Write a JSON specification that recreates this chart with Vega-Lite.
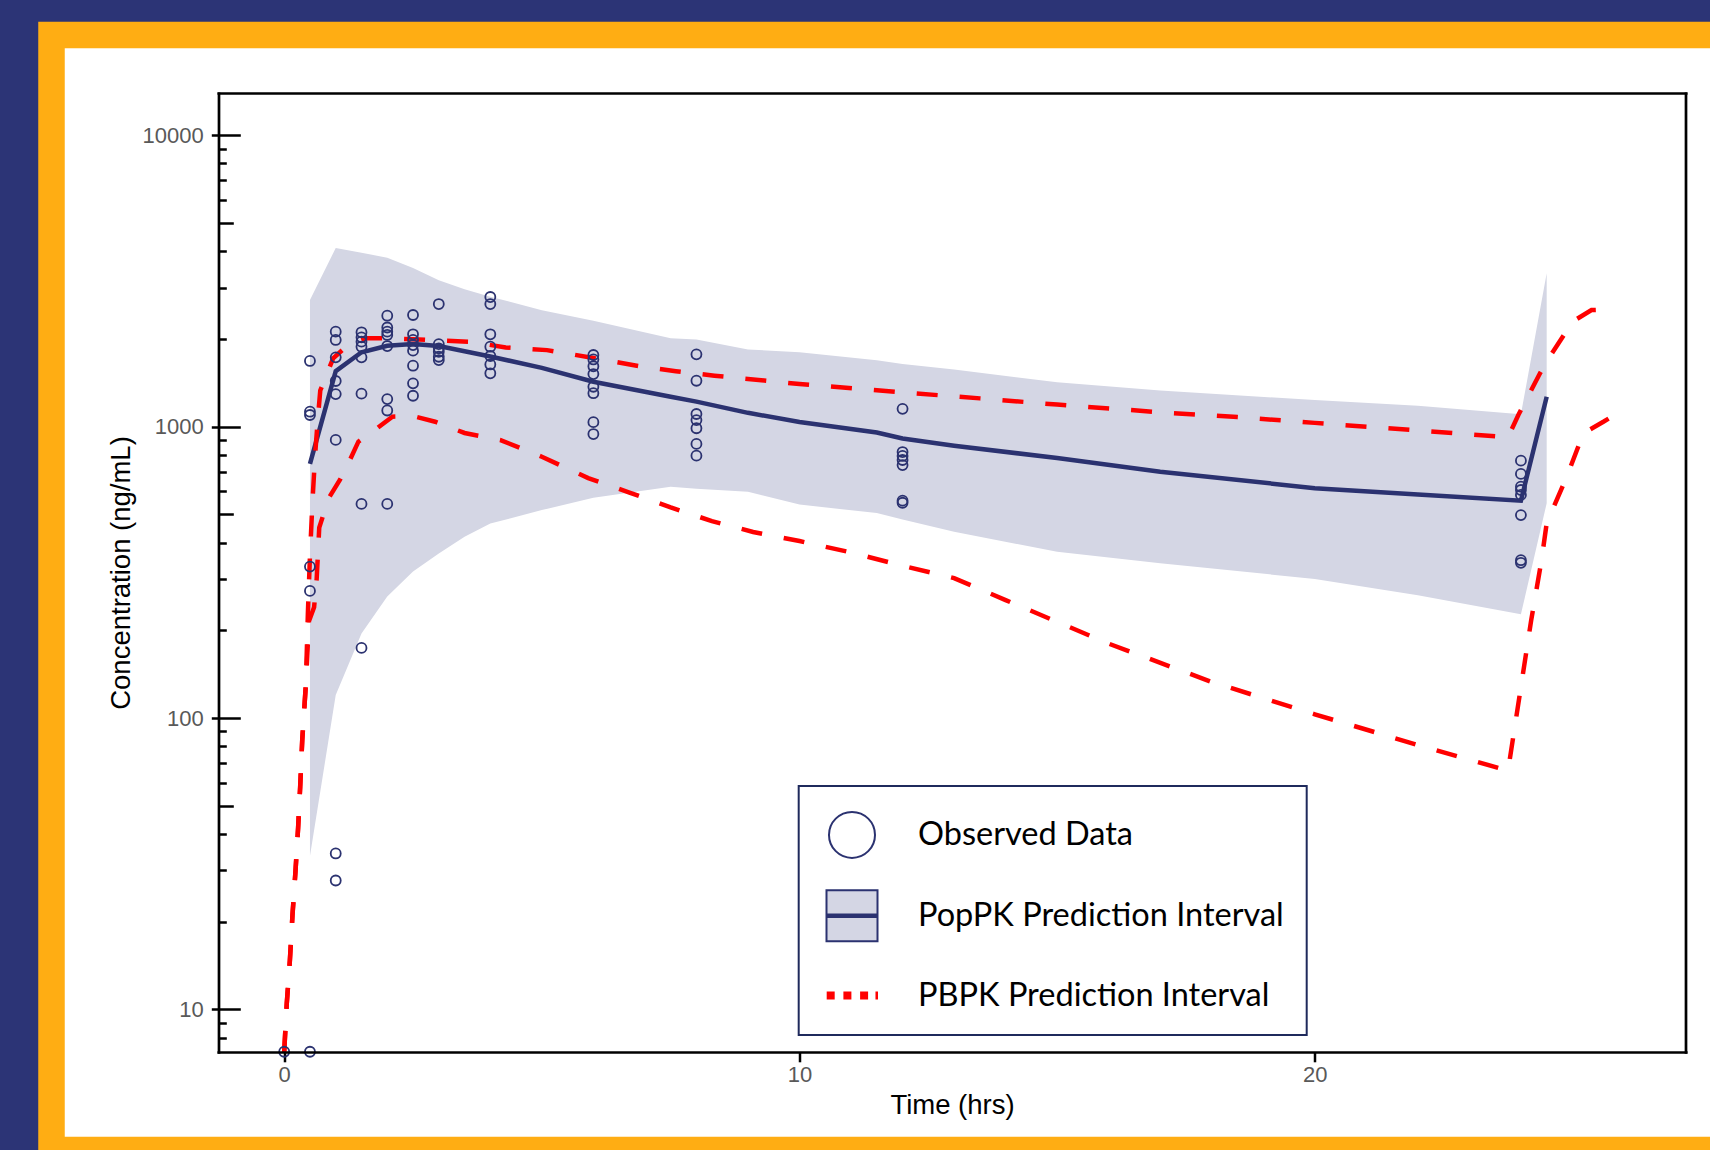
{
  "$schema": "https://vega.github.io/schema/vega-lite/v6.json",
  "width": 1658.5,
  "height": 1115,
  "autosize": {"type": "none"},
  "padding": {"left": 51.5, "top": 35, "right": 0, "bottom": 0},
  "background": "#2c3476",
  "config": {
    "view": {"fill": "white", "stroke": "#ffad13", "strokeWidth": 26.5, "strokeDash": [1658.5, 1115, 2773.5]},
    "legend": {"strokeWidth": 2}
  },
  "datasets": {
    "obs": [
      {"t": 0, "c": 7.16},
      {"t": 0.5, "c": 1680}, {"t": 0.5, "c": 1125}, {"t": 0.5, "c": 1096}, {"t": 0.5, "c": 331}, {"t": 0.5, "c": 273}, {"t": 0.5, "c": 7.16},
      {"t": 1, "c": 2117}, {"t": 1, "c": 1983}, {"t": 1, "c": 1729}, {"t": 1, "c": 1434}, {"t": 1, "c": 1293}, {"t": 1, "c": 900}, {"t": 1, "c": 34.3}, {"t": 1, "c": 27.7},
      {"t": 1.5, "c": 2107}, {"t": 1.5, "c": 2025}, {"t": 1.5, "c": 1956}, {"t": 1.5, "c": 1880}, {"t": 1.5, "c": 1729}, {"t": 1.5, "c": 1297}, {"t": 1.5, "c": 543}, {"t": 1.5, "c": 174},
      {"t": 2, "c": 2402}, {"t": 2, "c": 2188}, {"t": 2, "c": 2117}, {"t": 2, "c": 2063}, {"t": 2, "c": 1890}, {"t": 2, "c": 1243}, {"t": 2, "c": 1136}, {"t": 2, "c": 543},
      {"t": 2.5, "c": 2415}, {"t": 2.5, "c": 2074}, {"t": 2.5, "c": 1983}, {"t": 2.5, "c": 1905}, {"t": 2.5, "c": 1822}, {"t": 2.5, "c": 1618}, {"t": 2.5, "c": 1408}, {"t": 2.5, "c": 1276},
      {"t": 3, "c": 2634}, {"t": 3, "c": 1920}, {"t": 3, "c": 1856}, {"t": 3, "c": 1807}, {"t": 3, "c": 1737}, {"t": 3, "c": 1692},
      {"t": 4, "c": 2784}, {"t": 4, "c": 2634}, {"t": 4, "c": 2074}, {"t": 4, "c": 1880}, {"t": 4, "c": 1747}, {"t": 4, "c": 1634}, {"t": 4, "c": 1524},
      {"t": 6, "c": 1761}, {"t": 6, "c": 1700}, {"t": 6, "c": 1611}, {"t": 6, "c": 1515}, {"t": 6, "c": 1370}, {"t": 6, "c": 1302}, {"t": 6, "c": 1036}, {"t": 6, "c": 943},
      {"t": 8, "c": 1770}, {"t": 8, "c": 1437}, {"t": 8, "c": 1105}, {"t": 8, "c": 1053}, {"t": 8, "c": 987}, {"t": 8, "c": 872}, {"t": 8, "c": 795},
      {"t": 12, "c": 1151}, {"t": 12, "c": 818}, {"t": 12, "c": 793}, {"t": 12, "c": 768}, {"t": 12, "c": 738}, {"t": 12, "c": 557}, {"t": 12, "c": 548},
      {"t": 24, "c": 764}, {"t": 24, "c": 688}, {"t": 24, "c": 622}, {"t": 24, "c": 606}, {"t": 24, "c": 583}, {"t": 24, "c": 497}, {"t": 24, "c": 348}, {"t": 24, "c": 341}
    ],
    "band": [
      {"t": 0.5, "lo": 33.6, "hi": 2719, "med": 745},
      {"t": 1, "lo": 120, "hi": 4100, "med": 1550},
      {"t": 1.5, "lo": 195, "hi": 3950, "med": 1800},
      {"t": 2, "lo": 261, "hi": 3800, "med": 1895},
      {"t": 2.5, "lo": 318, "hi": 3500, "med": 1920},
      {"t": 3, "lo": 367, "hi": 3180, "med": 1890},
      {"t": 3.5, "lo": 419, "hi": 2960, "med": 1815},
      {"t": 4, "lo": 465, "hi": 2790, "med": 1740},
      {"t": 5, "lo": 517, "hi": 2510, "med": 1590},
      {"t": 6, "lo": 570, "hi": 2310, "med": 1426},
      {"t": 7.5, "lo": 622, "hi": 2010, "med": 1266},
      {"t": 8, "lo": 612, "hi": 1990, "med": 1218},
      {"t": 9, "lo": 598, "hi": 1840, "med": 1115},
      {"t": 10, "lo": 540, "hi": 1800, "med": 1037},
      {"t": 11.5, "lo": 505, "hi": 1690, "med": 955},
      {"t": 12, "lo": 480, "hi": 1640, "med": 910},
      {"t": 13, "lo": 436, "hi": 1570, "med": 860},
      {"t": 15, "lo": 372, "hi": 1420, "med": 780},
      {"t": 17, "lo": 340, "hi": 1330, "med": 700},
      {"t": 20, "lo": 300, "hi": 1234, "med": 615},
      {"t": 22, "lo": 264, "hi": 1180, "med": 585},
      {"t": 24, "lo": 227, "hi": 1102, "med": 557},
      {"t": 24.5, "lo": 546, "hi": 3357, "med": 1266}
    ],
    "pbpk": [
      {"b": "upper", "t": 0, "v": 7.16}, {"b": "upper", "t": 0.05, "v": 10.5}, {"b": "upper", "t": 0.11, "v": 14.7}, {"b": "upper", "t": 0.16, "v": 21}, {"b": "upper", "t": 0.22, "v": 30}, {"b": "upper", "t": 0.27, "v": 42}, {"b": "upper", "t": 0.31, "v": 58}, {"b": "upper", "t": 0.35, "v": 84}, {"b": "upper", "t": 0.42, "v": 130}, {"b": "upper", "t": 0.46, "v": 230}, {"b": "upper", "t": 0.5, "v": 360}, {"b": "upper", "t": 0.55, "v": 560}, {"b": "upper", "t": 0.6, "v": 800}, {"b": "upper", "t": 0.65, "v": 1050}, {"b": "upper", "t": 0.7, "v": 1330}, {"b": "upper", "t": 0.95, "v": 1715}, {"b": "upper", "t": 1.2, "v": 1880}, {"b": "upper", "t": 1.6, "v": 2009}, {"b": "upper", "t": 2, "v": 2009}, {"b": "upper", "t": 2.5, "v": 1995}, {"b": "upper", "t": 3, "v": 1975}, {"b": "upper", "t": 3.6, "v": 1955}, {"b": "upper", "t": 4.3, "v": 1870}, {"b": "upper", "t": 5.1, "v": 1830}, {"b": "upper", "t": 6, "v": 1720}, {"b": "upper", "t": 7, "v": 1600}, {"b": "upper", "t": 7.6, "v": 1550}, {"b": "upper", "t": 8.35, "v": 1495}, {"b": "upper", "t": 10, "v": 1400}, {"b": "upper", "t": 12, "v": 1310}, {"b": "upper", "t": 13.5, "v": 1250}, {"b": "upper", "t": 15, "v": 1190}, {"b": "upper", "t": 17, "v": 1120}, {"b": "upper", "t": 18.5, "v": 1078}, {"b": "upper", "t": 20, "v": 1030}, {"b": "upper", "t": 22, "v": 970}, {"b": "upper", "t": 23.75, "v": 920}, {"b": "upper", "t": 23.95, "v": 1096}, {"b": "upper", "t": 24.37, "v": 1524}, {"b": "upper", "t": 24.56, "v": 1737}, {"b": "upper", "t": 25, "v": 2291}, {"b": "upper", "t": 25.37, "v": 2512}, {"b": "upper", "t": 25.77, "v": 2526},
      {"b": "lower", "t": 0, "v": 7.16}, {"b": "lower", "t": 0.05, "v": 10.5}, {"b": "lower", "t": 0.11, "v": 14.7}, {"b": "lower", "t": 0.16, "v": 21}, {"b": "lower", "t": 0.22, "v": 30}, {"b": "lower", "t": 0.27, "v": 42}, {"b": "lower", "t": 0.31, "v": 58}, {"b": "lower", "t": 0.35, "v": 84}, {"b": "lower", "t": 0.42, "v": 130}, {"b": "lower", "t": 0.48, "v": 215}, {"b": "lower", "t": 0.58, "v": 240}, {"b": "lower", "t": 0.63, "v": 300}, {"b": "lower", "t": 0.68, "v": 450}, {"b": "lower", "t": 0.86, "v": 567}, {"b": "lower", "t": 1.08, "v": 656}, {"b": "lower", "t": 1.26, "v": 758}, {"b": "lower", "t": 1.44, "v": 888}, {"b": "lower", "t": 1.8, "v": 986}, {"b": "lower", "t": 2.1, "v": 1082}, {"b": "lower", "t": 2.5, "v": 1087}, {"b": "lower", "t": 2.93, "v": 1039}, {"b": "lower", "t": 3.5, "v": 951}, {"b": "lower", "t": 4.2, "v": 899}, {"b": "lower", "t": 5, "v": 788}, {"b": "lower", "t": 5.9, "v": 666}, {"b": "lower", "t": 6.7, "v": 594}, {"b": "lower", "t": 7.5, "v": 528}, {"b": "lower", "t": 8.3, "v": 474}, {"b": "lower", "t": 9.1, "v": 435}, {"b": "lower", "t": 10, "v": 405}, {"b": "lower", "t": 11, "v": 370}, {"b": "lower", "t": 12, "v": 333}, {"b": "lower", "t": 13, "v": 302}, {"b": "lower", "t": 14, "v": 254}, {"b": "lower", "t": 16, "v": 180}, {"b": "lower", "t": 18, "v": 133}, {"b": "lower", "t": 20, "v": 103}, {"b": "lower", "t": 22, "v": 80.8}, {"b": "lower", "t": 23.75, "v": 66}, {"b": "lower", "t": 24.11, "v": 171}, {"b": "lower", "t": 24.2, "v": 217}, {"b": "lower", "t": 24.4, "v": 348}, {"b": "lower", "t": 24.5, "v": 466}, {"b": "lower", "t": 24.89, "v": 673}, {"b": "lower", "t": 25.21, "v": 948}, {"b": "lower", "t": 25.6, "v": 1039}, {"b": "lower", "t": 25.92, "v": 1125}
    ]
  },
  "resolve": {"axis": {"x": "independent", "y": "independent"}},
  "layer": [
    {
      "data": {"name": "band"},
      "mark": {"type": "area", "opacity": 1},
      "encoding": {
        "x": {
          "field": "t", "type": "quantitative",
          "scale": {"domain": [-4.5158, 27.6693], "nice": false, "zero": false},
          "axis": {
            "orient": "bottom", "offset": -98.2, "values": [0, 10, 20], "format": "d", "grid": false, "domain": false,
            "labelFont": "Liberation Sans", "labelFontSize": 22, "labelColor": "#595959", "labelPadding": 3,
            "tickSize": 10, "tickWidth": 2.5, "tickColor": "black",
            "title": "Time (hrs)", "titleFont": "Liberation Sans", "titleFontSize": 27.5, "titleFontWeight": "normal", "titleColor": "black",
            "titleX": 900.5, "titleY": 62, "titleBaseline": "alphabetic", "titleAlign": "center"
          }
        },
        "y": {
          "field": "hi", "type": "quantitative",
          "scale": {"type": "log", "domain": [3.2944, 22069], "nice": false, "zero": false},
          "axis": {
            "orient": "left", "offset": -166.8, "grid": false, "domain": false,
            "values": [10, 100, 1000, 10000], "format": "d",
            "labelOverlap": false, "labelFont": "Liberation Sans", "labelFontSize": 22, "labelColor": "#595959", "labelPadding": 8,
            "tickSize": 7, "tickWidth": 2.5, "tickColor": "black",
            "title": "Concentration (ng/mL)", "titleFont": "Liberation Sans", "titleFontSize": 27.5, "titleFontWeight": "normal", "titleColor": "black",
            "titleX": -89, "titleY": 537.5, "titleBaseline": "alphabetic", "titleAlign": "center", "titleAngle": -90
          }
        },
        "y2": {"field": "lo"},
        "fill": {
          "datum": "PopPK Prediction Interval", "type": "nominal",
          "scale": {"domain": ["Observed Data", "PopPK Prediction Interval", "PBPK Prediction Interval"], "range": ["transparent", "#d4d6e4", "#ff0000"]},
          "legend": {
            "orient": "none", "legendX": 747.2, "legendY": 751, "title": null,
            "padding": 22.4, "strokeColor": "#1f2a5c", "fillColor": "white",
            "symbolSize": 2601, "symbolStrokeWidth": 2, "symbolOffset": 4.4, "labelOffset": 39.5, "rowPadding": 23.8, "symbolOpacity": 1,
            "labelFont": "Lato", "labelFontSize": 32.5, "labelColor": "black", "labelLimit": 600
          }
        }
      }
    },
    {
      "data": {"name": "band"},
      "mark": {"type": "line", "color": "#2b3270", "strokeWidth": 4.5},
      "encoding": {
        "x": {
          "field": "t", "type": "quantitative",
          "axis": {"orient": "bottom", "offset": -98.2, "values": [-1.2789, 27.1978], "labels": false, "domain": false, "grid": false, "title": null,
            "tickSize": -958.5, "tickWidth": 2.7, "tickColor": "black", "tickCap": "square", "zindex": 1}
        },
        "y": {
          "field": "med", "type": "quantitative",
          "axis": {"orient": "left", "offset": -166.8, "values": [10, 100, 1000, 10000], "labels": false, "domain": false, "grid": false, "title": null,
            "tickSize": -22, "tickWidth": 2.5, "tickColor": "black"}
        }
      }
    },
    {
      "data": {"name": "pbpk"},
      "transform": [{"filter": "datum.b === 'upper'"}],
      "mark": {"type": "line", "strokeWidth": 4.5, "strokeDash": [21, 22]},
      "encoding": {
        "x": {"field": "t", "type": "quantitative", "axis": null},
        "y": {
          "field": "v", "type": "quantitative",
          "axis": {"orient": "left", "offset": -166.8, "values": [50, 500, 5000], "labels": false, "domain": false, "grid": false, "title": null,
            "tickSize": -15, "tickWidth": 2.5, "tickColor": "black"}
        },
        "stroke": {"datum": "PBPK Prediction Interval", "type": "nominal"}
      }
    },
    {
      "data": {"name": "pbpk"},
      "transform": [{"filter": "datum.b === 'lower'"}],
      "mark": {"type": "line", "strokeWidth": 4.5, "strokeDash": [21, 22]},
      "encoding": {
        "x": {"field": "t", "type": "quantitative", "axis": null},
        "y": {
          "field": "v", "type": "quantitative",
          "axis": {"orient": "left", "offset": -166.8, "values": [8, 9, 20, 30, 40, 60, 70, 80, 90, 200, 300, 400, 600, 700, 800, 900, 2000, 3000, 4000, 6000, 7000, 8000, 9000], "labels": false, "domain": false, "grid": false, "title": null,
            "tickSize": -8, "tickWidth": 2.5, "tickColor": "black"}
        },
        "stroke": {"datum": "PBPK Prediction Interval", "type": "nominal"}
      }
    },
    {
      "data": {"name": "obs"},
      "mark": {"type": "point", "filled": false, "size": 123, "strokeWidth": 1.8, "opacity": 1},
      "encoding": {
        "x": {"field": "t", "type": "quantitative", "axis": null},
        "y": {
          "field": "c", "type": "quantitative",
          "axis": {"orient": "left", "offset": -166.8, "values": [7.1558, 13920], "labels": false, "domain": false, "grid": false, "title": null,
            "tickSize": -1467.4, "tickWidth": 2.7, "tickColor": "black", "tickCap": "square", "zindex": 1}
        },
        "stroke": {
          "datum": "Observed Data", "type": "nominal",
          "scale": {"domain": ["Observed Data", "PopPK Prediction Interval", "PBPK Prediction Interval"], "range": ["#2b3270", "#2b3270", "#ff0000"]},
          "legend": {
            "orient": "none", "legendX": 747.2, "legendY": 751, "title": null,
            "padding": 22.4, "strokeColor": "#1f2a5c", "fillColor": "white",
            "symbolSize": 2601, "symbolStrokeWidth": 2, "symbolOffset": 4.4, "labelOffset": 39.5, "rowPadding": 23.8, "symbolOpacity": 1,
            "labelFont": "Lato", "labelFontSize": 32.5, "labelColor": "black", "labelLimit": 600
          }
        },
        "shape": {
          "datum": "Observed Data", "type": "nominal",
          "scale": {"domain": ["Observed Data", "PopPK Prediction Interval", "PBPK Prediction Interval"], "range": [
            "M0.902,0A0.902,0.902,0,1,1,-0.902,0A0.902,0.902,0,1,1,0.902,0Z",
            "M-1,-1H1V1H-1Z M-1,-0.05H1 M-1,0H1 M-1,0.05H1",
            "M-0.953,-0.118H-0.718V0.118H-0.953Z M-0.298,-0.118H-0.063V0.118H-0.298Z M0.357,-0.118H0.592V0.118H0.357Z M0.96,-0.118H0.98V0.118H0.96Z"
          ]},
          "legend": {
            "orient": "none", "legendX": 747.2, "legendY": 751, "title": null,
            "padding": 22.4, "strokeColor": "#1f2a5c", "fillColor": "white",
            "symbolSize": 2601, "symbolStrokeWidth": 2, "symbolOffset": 4.4, "labelOffset": 39.5, "rowPadding": 23.8, "symbolOpacity": 1,
            "labelFont": "Lato", "labelFontSize": 32.5, "labelColor": "black", "labelLimit": 600
          }
        }
      }
    }
  ]
}
